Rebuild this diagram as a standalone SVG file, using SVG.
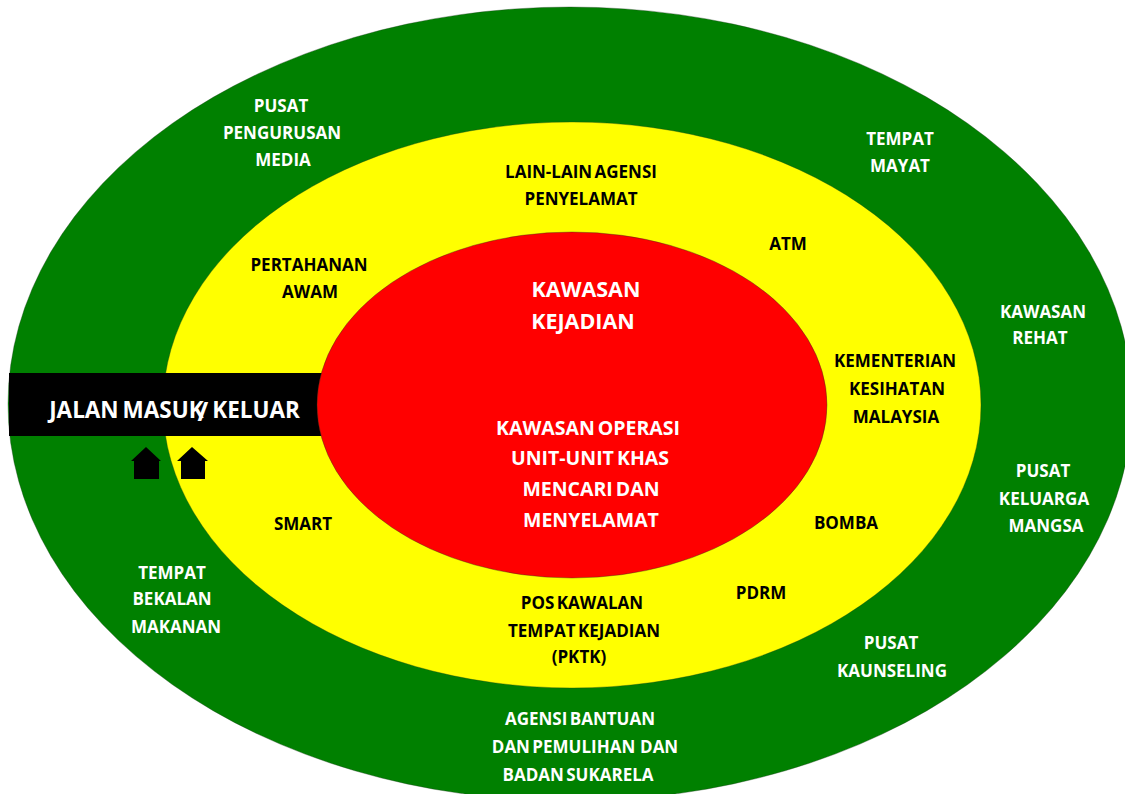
<svg xmlns="http://www.w3.org/2000/svg" width="1125" height="794" viewBox="0 0 1125 794">
<style>
text{font-family:"Open Sans","Liberation Sans",sans-serif;font-weight:700;text-anchor:middle;word-spacing:-2px;white-space:pre}
.w{fill:#fff;font-size:17px}.k{fill:#000;font-size:17px}.h{fill:#000}
.r{fill:#fff;font-size:19.5px}.z{stroke:#1c3a1c;stroke-width:.6;stroke-opacity:.6}
</style>
<rect width="1125" height="794" fill="#fff"/>
<g id="zone-green"><ellipse class="z" cx="570" cy="404" rx="562" ry="397" fill="#008000"/></g>
<g id="zone-yellow"><ellipse class="z" cx="572" cy="405" rx="409" ry="283" fill="#ffff00"/></g>
<g id="road"><rect x="9" y="373" width="316" height="63" fill="#000"/><text x="174.500" y="418" style="font-size:22.500px;fill:#fff">JALAN MASUK<tspan dx="-6" dy="3" style="font-size:26px">/</tspan><tspan dy="-3"> KELUAR</tspan></text></g>
<g id="zone-red"><ellipse class="z" cx="572" cy="405" rx="255" ry="173" fill="#ff0000"/></g>
<g id="house-1"><path class="h" d="M146 447L161 461H159V479H134V461H131Z"/></g>
<g id="house-2"><path class="h" d="M192 447L208 461H205V479H181V461H177Z"/></g>
<g id="labels-green">
<text class="w" x="281" y="112">PUSAT</text><text class="w" x="282" y="139">PENGURUSAN</text><text class="w" x="283" y="166">MEDIA</text>
<text class="w" x="900" y="145">TEMPAT</text><text class="w" x="900" y="172">MAYAT</text>
<text class="w" x="1043" y="318">KAWASAN</text><text class="w" x="1040" y="344">REHAT</text>
<text class="w" x="1043" y="477">PUSAT</text><text class="w" x="1044" y="505">KELUARGA</text><text class="w" x="1046" y="532">MANGSA</text>
<text class="w" x="891" y="649">PUSAT</text><text class="w" x="892" y="677">KAUNSELING</text>
<text class="w" x="580" y="725">AGENSI BANTUAN</text><text class="w" x="585" y="753">DAN PEMULIHAN  DAN</text><text class="w" x="578" y="781">BADAN SUKARELA</text>
<text class="w" x="172" y="579">TEMPAT</text><text class="w" x="172" y="605">BEKALAN</text><text class="w" x="176" y="633">MAKANAN</text>
</g>
<g id="labels-yellow">
<text class="k" x="581" y="178">LAIN-LAIN AGENSI</text><text class="k" x="581" y="205">PENYELAMAT</text>
<text class="k" x="788" y="250">ATM</text>
<text class="k" x="309" y="271">PERTAHANAN</text><text class="k" x="310" y="298">AWAM</text>
<text class="k" x="895" y="367">KEMENTERIAN</text><text class="k" x="897" y="395">KESIHATAN</text><text class="k" x="896" y="423">MALAYSIA</text>
<text class="k" x="846" y="529">BOMBA</text><text class="k" x="303" y="530">SMART</text><text class="k" x="761" y="599">PDRM</text>
<text class="k" x="582" y="609">POS KAWALAN</text><text class="k" x="584" y="637">TEMPAT KEJADIAN</text><text class="k" x="579" y="663">(PKTK)</text>
</g>
<g id="labels-red">
<text x="586" y="297" style="font-size:21.500px;fill:#fff">KAWASAN</text><text x="583" y="329" style="font-size:21.500px;fill:#fff">KEJADIAN</text>
<text class="r" x="588" y="435">KAWASAN OPERASI</text><text class="r" x="590" y="465">UNIT-UNIT KHAS</text><text class="r" x="591" y="496">MENCARI DAN</text><text class="r" x="591" y="527">MENYELAMAT</text>
</g>
</svg>
